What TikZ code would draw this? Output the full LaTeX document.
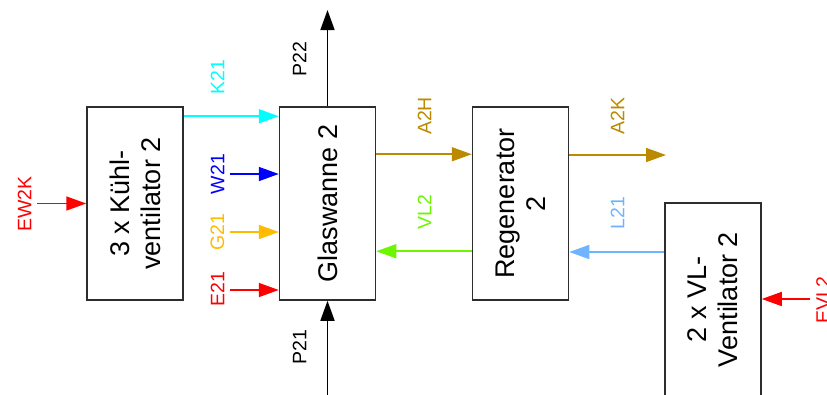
\documentclass[tikz,border=0pt]{standalone}
\usepackage{fontspec}
\setmainfont{Liberation Sans}
\usetikzlibrary{arrows.meta}
\definecolor{cK}{RGB}{0,255,255}
\definecolor{cW}{RGB}{0,0,255}
\definecolor{cG}{RGB}{255,187,0}
\definecolor{cE}{RGB}{255,0,0}
\definecolor{cA}{RGB}{188,138,0}
\definecolor{cV}{RGB}{110,245,0}
\definecolor{cL}{RGB}{110,180,255}
\definecolor{cBox}{RGB}{45,45,45}
\begin{document}
\begin{tikzpicture}[x=1pt,y=-1pt,
  box/.style={draw=cBox, line width=1.5pt, minimum width=96pt, minimum height=193pt, inner sep=0pt},
  boxtext/.style={rotate=90, align=center, inner sep=0pt, font=\fontsize{27}{31}\selectfont},
  flow/.style={line width=1.6pt, -{Triangle[length=20pt,width=14pt]}},
  lbl/.style={rotate=90, inner sep=0pt, font=\fontsize{19.5}{22}\selectfont}]
\useasboundingbox (0,0) rectangle (827,394);
\clip (0,0) rectangle (827,394);

% boxes
\node[box] (kuehl) at (135,203.5) {};
\node[boxtext] (kuehltext) at (kuehl) {3 x Kühl-\\ventilator 2};
\node[box] (glas) at (327.5,203.5) {};
\node[boxtext] (glastext) at (glas) {Glaswanne 2};
\node[box] (regen) at (520.5,203.5) {};
\node[boxtext] (regentext) at (regen) {Regenerator\\2};
\node[box] (vlvent) at (713,299.5) {};
\node[boxtext] (vlventtext) at (vlvent) {2 x VL-\\Ventilator 2};

% free ends
\coordinate (w21s) at (230,174);
\coordinate (g21s) at (230,232);
\coordinate (e21s) at (230,290);
\coordinate (ew2ks) at (37,203.5);
\coordinate (p22e) at (327.5,10);
\coordinate (p21s) at (327.5,400);
\coordinate (a2ke) at (666,155);
\coordinate (evl2s) at (810,299);

% connectors
\draw[flow,cK] ([yshift=-10pt]kuehl.north east) -- ([yshift=-10pt]glas.north west);
\draw[flow,cW] (w21s) -- (glas.west |- w21s);
\draw[flow,cG] (g21s) -- (glas.west |- g21s);
\draw[flow,cE] (e21s) -- (glas.west |- e21s);
\draw[flow,cE] (ew2ks) -- (kuehl.west);
\draw[flow,black] (glas.north) -- (p22e);
\draw[flow,black] (p21s) -- (glas.south);
\draw[flow,cA] ([yshift=-48pt]glas.north east) -- ([yshift=-48pt]regen.north west);
\draw[flow,cV] ([yshift=-145pt]regen.north west) -- ([yshift=-145pt]glas.north east);
\draw[flow,cA] (regen.east |- a2ke) -- (a2ke);
\draw[flow,cL] (vlvent.west |- 0,252) -- (regen.east |- 0,252);
\draw[flow,cE] (evl2s) -- (vlvent.east |- evl2s);

% labels
\node[lbl,cK] (lk21) at (217.5,77) {K21};
\node[lbl,cW] (lw21) at (217.5,174) {W21};
\node[lbl,cG] (lg21) at (217.5,232) {G21};
\node[lbl,cE] (le21) at (217.5,289) {E21};
\node[lbl,cE] (lew2k) at (24.5,204) {EW2K};
\node[lbl,black] (lp22) at (299.5,59) {P22};
\node[lbl,black] (lp21) at (299.5,347) {P21};
\node[lbl,cA] (la2h) at (424.5,116) {A2H};
\node[lbl,cV] (lvl2) at (424.5,212) {VL2};
\node[lbl,cA] (la2k) at (617.5,116) {A2K};
\node[lbl,cL] (ll21) at (617.5,213) {L21};
\node[lbl,cE] (levl2) at (823,300) {EVL2};
\end{tikzpicture}
\end{document}
